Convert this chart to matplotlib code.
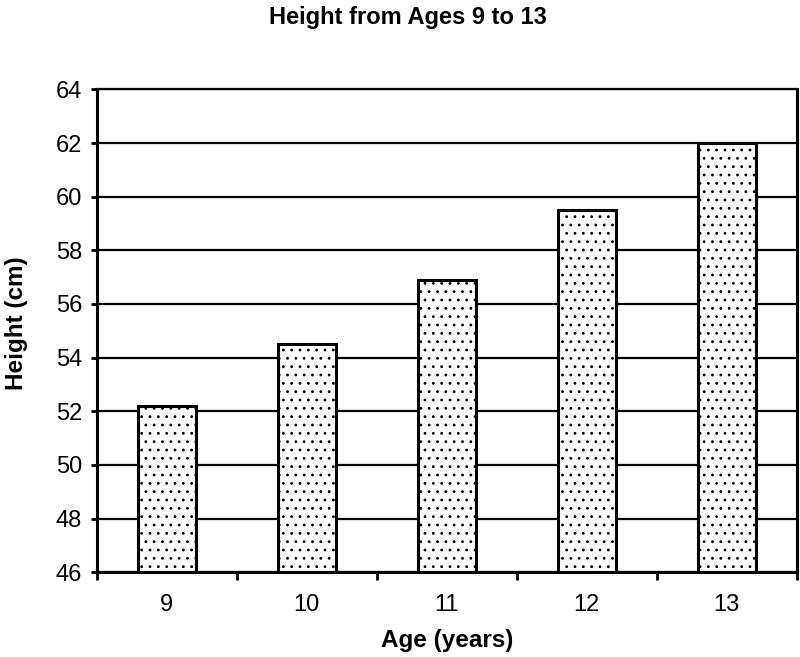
import matplotlib
matplotlib.use("Agg")
import matplotlib.pyplot as plt
import numpy as np

plt.rcParams["font.family"] = ["Liberation Sans", "DejaVu Sans"]
plt.rcParams["hatch.linewidth"] = 0.8
plt.rcParams["hatch.color"] = "#222222"

ages = ["9", "10", "11", "12", "13"]
heights = [52.2, 54.5, 56.9, 59.5, 62.0]
y_ticks = [46, 48, 50, 52, 54, 56, 58, 60, 62, 64]

fig = plt.figure(figsize=(8, 6.57), dpi=100)
ax = fig.add_axes([0.121, 0.129, 0.875, 0.735])

x = np.arange(len(ages))
ax.bar(x, [h - 46 for h in heights], bottom=46, width=0.415, color="#fbfbfb",
       edgecolor="black", linewidth=2.2, hatch="..", zorder=3)

ax.set_ylim(46, 64)
ax.set_xlim(-0.5, len(ages) - 0.5)
ax.set_yticks(y_ticks)
ax.grid(axis="y", color="black", linewidth=1.6, zorder=0)

# category ticks sit between the bars, labels centred under them
ax.set_xticks(np.arange(-0.5, len(ages)), labels=[""] * (len(ages) + 1))
ax.set_xticks(x, labels=ages, minor=True)
ax.tick_params(axis="x", which="minor", length=0, pad=16, labelsize=17)
ax.tick_params(axis="x", which="major", length=6, width=2)
ax.tick_params(axis="y", length=4.5, width=2, labelsize=17, pad=6)

for s in ["left", "bottom", "right"]:
    ax.spines[s].set_linewidth(2.2)
ax.spines["top"].set_linewidth(1.6)

ax.set_xlabel("Age (years)", fontsize=17.5, fontweight="bold", va="center")
ax.xaxis.set_label_coords(0.5, -0.141)
ax.set_ylabel("Height (cm)", fontsize=17.5, fontweight="bold", va="center")
ax.yaxis.set_label_coords(-0.114, 0.515)
fig.text(0.51, 0.974, "Height from Ages 9 to 13", fontsize=17, fontweight="bold",
         ha="center", va="center")

fig.savefig("out.png", dpi=100)
